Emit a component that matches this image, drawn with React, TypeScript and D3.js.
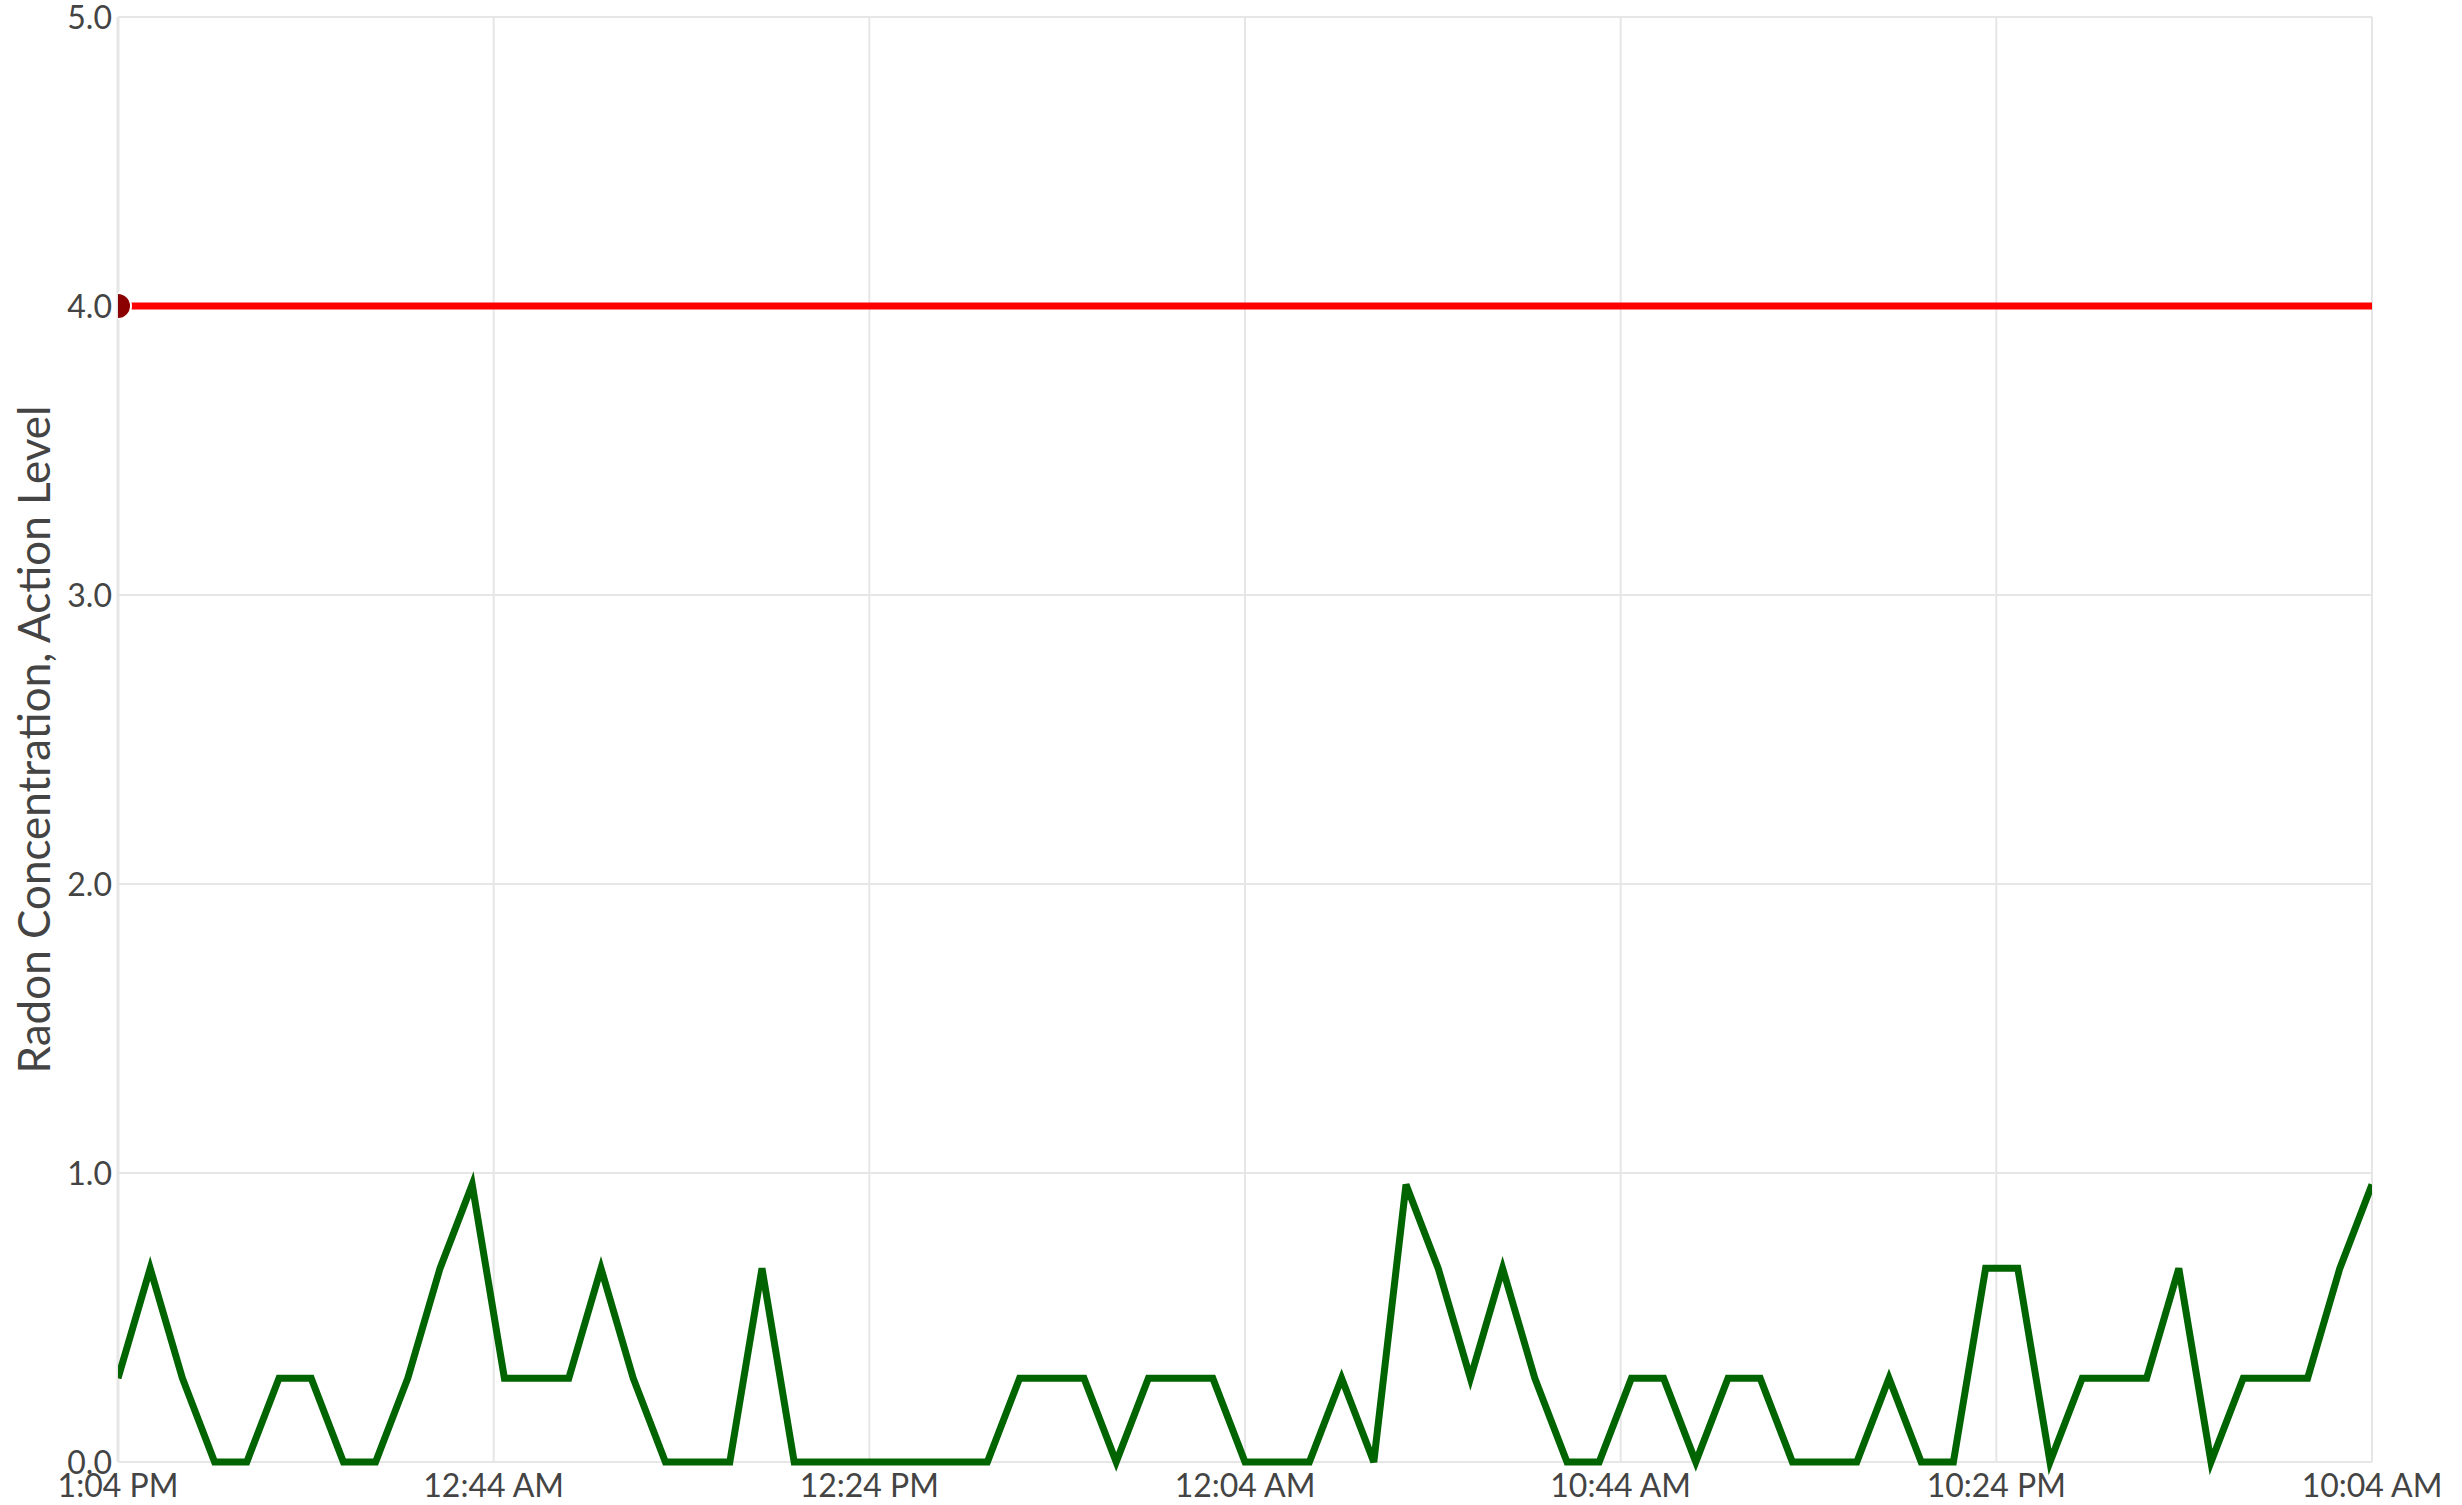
import React from "react";
import * as d3 from "d3";

const hours: number[] = d3.range(0, 71);
const radon: number[] = [
  0.29, 0.67, 0.29, 0, 0, 0.29, 0.29, 0, 0, 0.29,
  0.67, 0.96, 0.29, 0.29, 0.29, 0.67, 0.29, 0, 0, 0,
  0.67, 0, 0, 0, 0, 0, 0, 0, 0.29, 0.29,
  0.29, 0, 0.29, 0.29, 0.29, 0, 0, 0, 0.29, 0,
  0.96, 0.67, 0.29, 0.67, 0.29, 0, 0, 0.29, 0.29, 0,
  0.29, 0.29, 0, 0, 0, 0.29, 0, 0, 0.67, 0.67,
  0, 0.29, 0.29, 0.29, 0.67, 0, 0.29, 0.29, 0.29, 0.67,
  0.96,
];
const actionLevel = 4.0;
const xTickHours: number[] = [0, 70 / 6, 140 / 6, 35, 280 / 6, 350 / 6, 70];
const xTickLabels: string[] = ["1:04 PM", "12:44 AM", "12:24 PM", "12:04 AM", "10:44 AM", "10:24 PM", "10:04 AM"];
const yTicks: number[] = [0, 1, 2, 3, 4, 5];
const yTitle = "Radon Concentration, Action Level";

const W = 2462, H = 1505;
const M = { left: 118, right: 90, top: 17, bottom: 43 };
const FONT = "Lato, 'Open Sans', sans-serif";

export default function App() {
  const x = d3.scaleLinear().domain([0, 70]).range([M.left, W - M.right]);
  const y = d3.scaleLinear().domain([0, 5]).range([H - M.bottom, M.top]);
  const line = d3.line<number>().x((_, i) => x(hours[i])).y((d) => y(d));
  const x0 = x.range()[0], x1 = x.range()[1];
  return (
    <svg width={W} height={H} style={{ position: "absolute", left: 0, top: 0, background: "#fff" }}>
      <defs>
        <clipPath id="plot">
          <rect x={x0} y={M.top - 20} width={x1 - x0} height={H - M.bottom - M.top + 40} />
        </clipPath>
      </defs>
      {yTicks.map((t) => (
        <line key={"gy" + t} x1={x0} x2={x1} y1={y(t)} y2={y(t)} stroke="#e6e6e6" strokeWidth={2} />
      ))}
      {xTickHours.map((h, i) => (
        <line key={"gx" + i} x1={x(h)} x2={x(h)} y1={y(5)} y2={y(0)} stroke="#e6e6e6" strokeWidth={i === 0 ? 3 : 2} />
      ))}
      {yTicks.map((t) => (
        <text key={"ty" + t} x={x0 - 6} y={y(t)} dy="0.36em" textAnchor="end" fontFamily={FONT} fontSize={32} fill="#444">
          {t.toFixed(1)}
        </text>
      ))}
      {xTickHours.map((h, i) => (
        <text key={"tx" + i} x={x(h)} y={1497} textAnchor="middle" fontFamily={FONT} fontSize={32} fill="#444">
          {xTickLabels[i]}
        </text>
      ))}
      <text transform={`translate(50, ${(y(0) + y(5)) / 2}) rotate(-90)`} textAnchor="middle" fontFamily={FONT} fontSize={44} fill="#444">
        {yTitle}
      </text>
      <g clipPath="url(#plot)">
        <line x1={x0} x2={x1} y1={y(actionLevel)} y2={y(actionLevel)} stroke="#ff0000" strokeWidth={7} />
        <circle cx={x0} cy={y(actionLevel)} r={13} fill="#8b0000" stroke="#fff" strokeWidth={2} />
        <path d={line(radon) ?? ""} fill="none" stroke="#006400" strokeWidth={7} strokeLinejoin="miter" />
      </g>
    </svg>
  );
}
